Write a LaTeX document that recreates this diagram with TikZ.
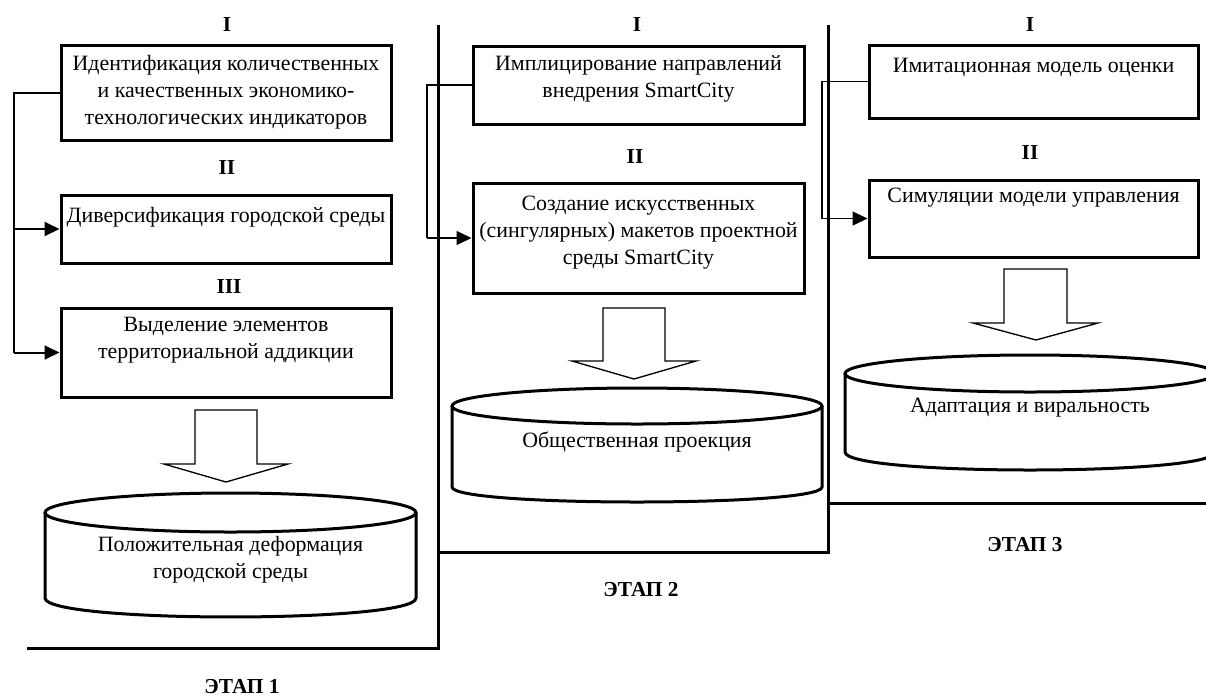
\documentclass[tikz,border=0pt]{standalone}
\usepackage{fontspec}
\setmainfont{Liberation Serif}
\usetikzlibrary{arrows.meta}
\begin{document}
\begin{tikzpicture}[x=0.75pt,y=-0.75pt,
  box/.style={draw, line width=2.25pt, inner sep=0pt},
  txt/.style={font=\fontsize{16.4}{20.25}\selectfont, align=center, inner sep=0pt},
  lbl/.style={font=\fontsize{16}{18}\selectfont\bfseries, inner sep=0pt},
  conn/.style={line width=1.5pt},
  connthin/.style={line width=1.1pt},
  tip/.style={-{Triangle[length=11.25pt,width=10.5pt]}},
  cyl/.style={line width=2.25pt},
  barrow/.style={draw, line width=1pt, fill=white},
  stage/.style={line width=2.25pt}]
\useasboundingbox (0,0) rectangle (1206,697);

% ---------- stage 1 ----------
\node[lbl] (l11) at (227,25) {I};
\node[box, minimum width=247.5pt, minimum height=71.25pt] (b11) at (226,92.5) {};
\node[txt] (t11) at (226,92.5) {Идентификация количественных\\и качественных экономико-\\технологических индикаторов};
\node[lbl] (l12) at (227,168) {II};
\node[box, minimum width=247.5pt, minimum height=51pt] (b12) at (226,229) {};
\node[txt] (t12) at (226,217) {Диверсификация городской среды};
\node[lbl] (l13) at (229,287) {III};
\node[box, minimum width=247.5pt, minimum height=66.75pt] (b13) at (226,352.5) {};
\node[txt] (t13) at (226,340.5) {Выделение элементов\\территориальной аддикции};

\coordinate (c1a) at (14,92.5);
\coordinate (c1b) at (14,229);
\coordinate (c1c) at (14,352.5);
\draw[conn] (b11.west) -- (c1a) -- (c1c);
\draw[conn,tip] (c1b) -- (b12.west);
\draw[conn,tip] (c1c) -- (b13.west);

\draw[barrow] (195,410) -- (257,410) -- (257,464) -- (288,464) -- (226,482) -- (164,464) -- (195,464) -- cycle;

\draw[cyl, fill=white] (45,512.5) -- (45,598) .. controls (45,623.3) and (416,623.3) .. (416,598) -- (416,512.5);
\draw[cyl] (230.5,512.5) ellipse [x radius=139.125pt, y radius=14.625pt];
\node[txt] (cy1) at (230.5,560) {Положительная деформация\\городской среды};

% ---------- stage 2 ----------
\node[lbl] (l21) at (637,25) {I};
\node[box, minimum width=248.25pt, minimum height=58.5pt] (b21) at (638.5,85) {};
\node[txt] (t21) at (638.5,78.5) {Имплицирование направлений\\внедрения SmartCity};
\node[lbl] (l22) at (635,157) {II};
\node[box, minimum width=248.25pt, minimum height=82.5pt] (b22) at (638.5,238) {};
\node[txt] (t22) at (638.5,233) {Создание искусственных\\(сингулярных) макетов проектной\\среды SmartCity};

\coordinate (c2a) at (427,85);
\coordinate (c2b) at (427,238);
\draw[connthin] (b21.west) -- (c2a) -- (c2b);
\draw[connthin,tip] (c2b) -- (b22.west);

\draw[barrow] (603,308) -- (665,308) -- (665,361) -- (696,361) -- (634,379) -- (572,361) -- (603,361) -- cycle;

\draw[cyl, fill=white] (452,406) -- (452,487) .. controls (452,507) and (822,507) .. (822,487) -- (822,406);
\draw[cyl] (637,406) ellipse [x radius=138.75pt, y radius=13.5pt];
\node[txt] (cy2) at (637,442) {Общественная проекция};

% ---------- stage 3 ----------
\node[lbl] (l31) at (1030,25) {I};
\node[box, minimum width=246.75pt, minimum height=54.75pt] (b31) at (1033.5,81.5) {};
\node[txt] (t31) at (1033.5,67) {Имитационная модель оценки};
\node[lbl] (l32) at (1030,153) {II};
\node[box, minimum width=246.75pt, minimum height=57.75pt] (b32) at (1033.5,218.5) {};
\node[txt] (t32) at (1033.5,198) {Симуляции модели управления};

\coordinate (c3a) at (822,81.5);
\coordinate (c3b) at (822,218.5);
\draw[connthin] (b31.west) -- (c3a) -- (c3b);
\draw[connthin,tip] (c3b) -- (b32.west);

\draw[barrow] (1004,269) -- (1067,269) -- (1067,323) -- (1098,323) -- (1036,340) -- (973,323) -- (1004,323) -- cycle;

\draw[cyl, fill=white] (845,373.5) -- (845,452) .. controls (845,476) and (1215,476) .. (1215,452) -- (1215,373.5);
\draw[cyl] (1030,373.5) ellipse [x radius=138.75pt, y radius=13.875pt];
\node[txt] (cy3) at (1030,408) {Адаптация и виральность};

% ---------- stage frames ----------
\coordinate (f1) at (27,648);
\coordinate (f2) at (438,648);
\coordinate (f3) at (438,25);
\coordinate (f4) at (438,552);
\coordinate (f5) at (828,552);
\coordinate (f6) at (828,25);
\coordinate (f7) at (828,503);
\coordinate (f8) at (1206,503);
\draw[stage] (f1) -- (f2) -- (f3);
\draw[stage] (f4) -- (f5) -- (f6);
\draw[stage] (f7) -- (f8);

\node[lbl] (e1) at (242,687) {ЭТАП 1};
\node[lbl] (e2) at (641,590) {ЭТАП 2};
\node[lbl] (e3) at (1025,545) {ЭТАП 3};
\end{tikzpicture}
\end{document}
